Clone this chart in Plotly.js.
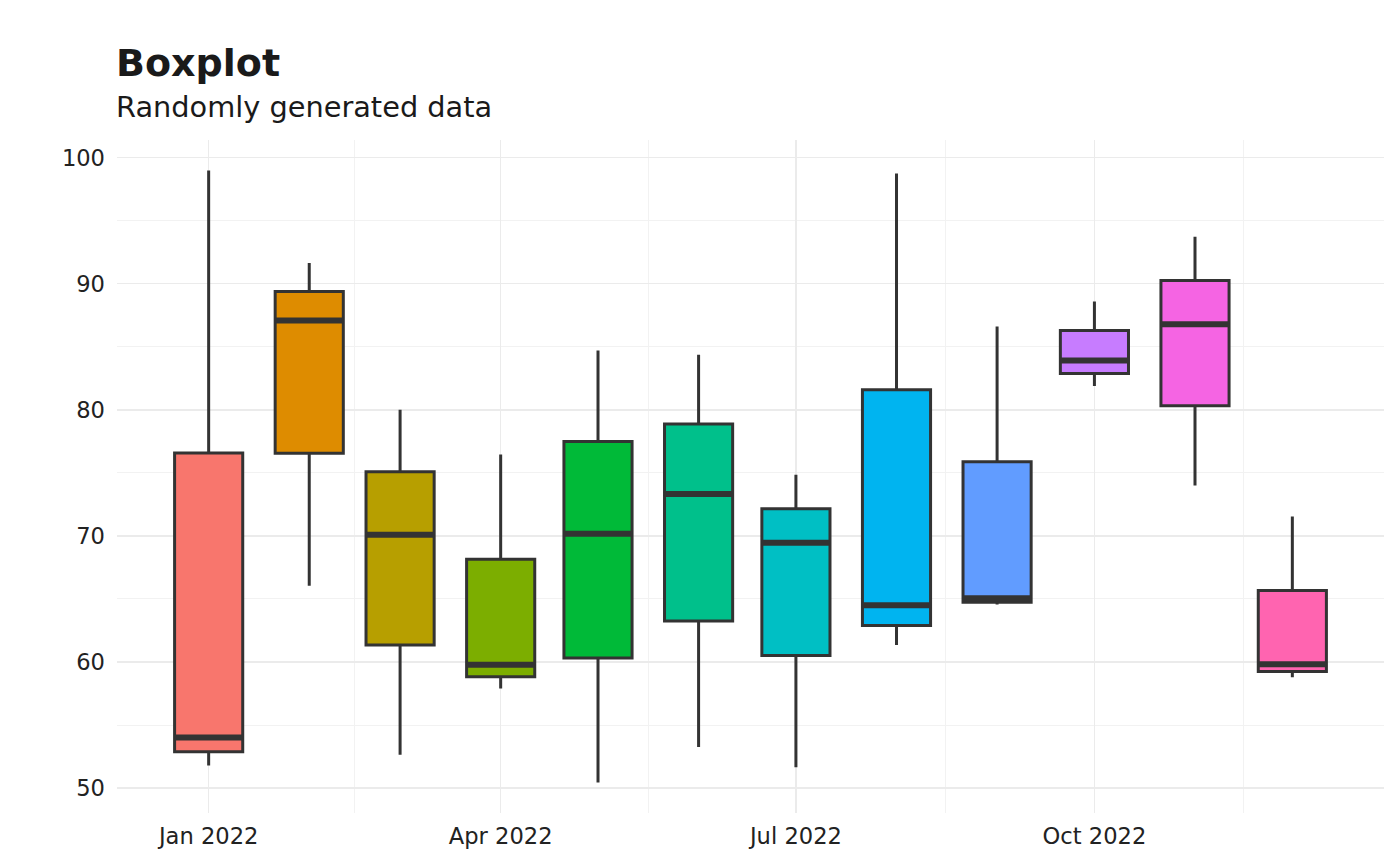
<!DOCTYPE html>
<html>
<head>
<meta charset="utf-8">
<script src="https://cdn.plot.ly/plotly-3.0.1.min.js"></script>
<style>html,body{margin:0;padding:0;background:#fff;}#chart{width:1400px;height:866px;}</style>
</head>
<body>
<div id="chart"></div>
<script>
// Data
const months      = ['2022-01-01','2022-02-01','2022-03-01','2022-04-01','2022-05-01','2022-06-01','2022-07-01','2022-08-01','2022-09-01','2022-10-01','2022-11-01','2022-12-01'];
const upperWhisk  = [98.97, 91.65, 80.00, 76.46, 84.71, 84.36, 74.85, 98.73, 86.60, 88.59, 93.73, 71.54];
const q3Values    = [76.58, 89.38, 75.09, 68.14, 77.49, 78.87, 72.16, 81.58, 75.87, 86.29, 90.26, 65.66];
const medians     = [54.02, 87.08, 70.10, 59.79, 70.17, 73.33, 69.45, 64.50, 65.05, 83.91, 86.78, 59.82];
const q1Values    = [52.89, 76.56, 61.34, 58.83, 60.31, 63.26, 60.52, 62.89, 64.74, 82.88, 80.33, 59.25];
const lowerWhisk  = [51.79, 66.05, 52.65, 57.90, 50.45, 53.26, 51.65, 61.34, 64.56, 81.89, 73.99, 58.79];
const fillColors  = ['#F8766D','#DE8C00','#B79F00','#7CAE00','#00BA38','#00C08B','#00BFC4','#00B4F0','#619CFF','#C77CFF','#F564E3','#FF64B0'];
const xTickVals   = ['2022-01-01','2022-04-01','2022-07-01','2022-10-01'];
const xTickText   = ['Jan 2022','Apr 2022','Jul 2022','Oct 2022'];
const yTickVals   = [50, 60, 70, 80, 90, 100];

const DAY = 86400000;
const boxWidth = 21 * DAY;
const ms = s => new Date(s + 'T00:00:00Z').getTime();

const traces = [];
months.forEach((m, i) => {
  traces.push({
    type: 'box',
    x: [m],
    q1: [q1Values[i]], median: [medians[i]], q3: [q3Values[i]],
    lowerfence: [lowerWhisk[i]], upperfence: [upperWhisk[i]],
    width: boxWidth,
    whiskerwidth: 0,
    fillcolor: fillColors[i],
    line: {color: '#333333', width: 3},
    boxpoints: false,
    showlegend: false,
    hoverinfo: 'y'
  });
});
// thicker median lines, as in ggplot
months.forEach((m, i) => {
  const c = ms(m);
  traces.push({
    type: 'scatter', mode: 'lines',
    x: [c - boxWidth / 2, c + boxWidth / 2],
    y: [medians[i], medians[i]],
    line: {color: '#333333', width: 6},
    showlegend: false, hoverinfo: 'skip'
  });
});

// x range with ggplot-like 5% expansion
const xMin = ms(months[0]) - boxWidth / 2, xMax = ms(months[months.length - 1]) + boxWidth / 2;
const xPad = (xMax - xMin) * 0.05;
const yMin = Math.min(...lowerWhisk), yMax = Math.max(...upperWhisk);
const yPad = (yMax - yMin) * 0.05;

// minor x grid midway between major ticks
const tickMs = xTickVals.map(ms);
const minorX = [];
for (let i = 0; i < tickMs.length; i++) {
  const step = i < tickMs.length - 1 ? tickMs[i + 1] - tickMs[i] : tickMs[i] - tickMs[i - 1];
  minorX.push(tickMs[i] + step / 2);
}

const layout = {
  width: 1400, height: 866,
  margin: {l: 117, r: 16, t: 140, b: 53},
  paper_bgcolor: '#ffffff', plot_bgcolor: '#ffffff',
  font: {family: 'DejaVu Sans', color: '#222222'},
  showlegend: false,
  xaxis: {
    type: 'date',
    range: [xMin - xPad, xMax + xPad],
    tickmode: 'array', tickvals: xTickVals, ticktext: xTickText,
    tickfont: {size: 22.6, color: '#222222'},
    showline: false, zeroline: false, ticks: '',
    showgrid: true, gridcolor: '#ebebeb', gridwidth: 1.5,
    minor: {tickmode: 'array', tickvals: minorX, showgrid: true, gridcolor: '#f2f2f2', gridwidth: 1},
    ticklabelstandoff: 7
  },
  yaxis: {
    range: [yMin - yPad, yMax + yPad],
    tickmode: 'array', tickvals: yTickVals,
    tickfont: {size: 22.6, color: '#222222'},
    showline: false, zeroline: false, ticks: '',
    showgrid: true, gridcolor: '#ebebeb', gridwidth: 1.5,
    minor: {dtick: 5, tick0: 55, showgrid: true, gridcolor: '#f2f2f2', gridwidth: 1},
    ticklabelstandoff: 11
  },
  annotations: [
    {text: '<b>Boxplot</b>', xref: 'paper', yref: 'paper', x: 0, y: (813 - 63) / 673, xshift: -3,
     xanchor: 'left', yanchor: 'middle', showarrow: false,
     font: {family: 'DejaVu Sans', size: 38, color: '#1a1a1a'}},
    {text: 'Randomly generated data', xref: 'paper', yref: 'paper', x: 0, y: (813 - 107.5) / 673, xshift: -3,
     xanchor: 'left', yanchor: 'middle', showarrow: false,
     font: {family: 'DejaVu Sans', size: 28.8, color: '#1a1a1a'}}
  ]
};

Plotly.newPlot('chart', traces, layout, {displayModeBar: false, staticPlot: true});
</script>
</body>
</html>
